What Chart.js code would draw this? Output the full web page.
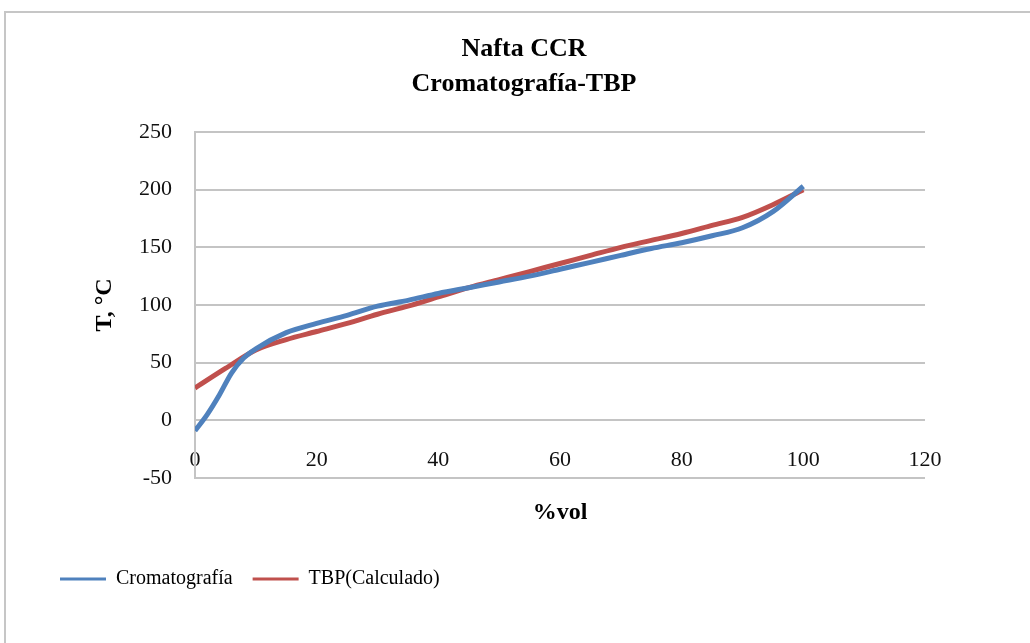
<!DOCTYPE html>
<html>
<head>
<meta charset="utf-8">
<script src="https://cdn.jsdelivr.net/npm/chart.js@4"></script>
<style>
  html, body { margin: 0; padding: 0; background: #fff; overflow: hidden; width: 1030px; height: 643px; }
  #frame { position: absolute; left: 4px; top: 11px; width: 1100px; height: 700px; border-left: 2px solid #c6c6c6; border-top: 2px solid #c6c6c6; }
  #wrap { position: absolute; left: 5px; top: 12px; width: 1038px; height: 631px; }
</style>
</head>
<body>
<div id="frame"></div>
<div id="wrap"><canvas id="c" width="1038" height="631"></canvas></div>
<script>
const titleLines = ["Nafta CCR", "Cromatografía-TBP"];
const xTitle = "%vol";
const yTitle = "T, °C";
const seriesNames = ["Cromatografía", "TBP(Calculado)"];

const cromX = [0, 2, 4, 6, 8, 10, 15, 20, 25, 30, 35, 40, 45, 50, 55, 60, 65, 70, 75, 80, 85, 90, 95, 100];
const cromY = [-9, 5, 22, 41, 54, 62, 76, 84, 91, 99, 104, 110, 115, 120, 125, 131, 137, 143, 149, 154, 160, 167, 181, 203];

const tbpX = [0, 5, 10, 15, 20, 25, 30, 35, 40, 45, 50, 55, 60, 65, 70, 75, 80, 85, 90, 95, 100];
const tbpY = [28, 45, 61, 70, 77, 84, 92, 99, 107, 115, 122, 129, 136, 143, 150, 156, 162, 169, 176, 187, 200];

const xMin = 0, xMax = 120, xStep = 20;
const yMin = -50, yMax = 250, yStep = 50;

const serif = '"Liberation Serif", "Times New Roman", serif';
const gridGray = '#c4c4c4';

const toPts = (xs, ys) => xs.map((x, i) => ({ x: x, y: ys[i] }));

new Chart(document.getElementById('c'), {
  type: 'line',
  data: {
    datasets: [
      { label: seriesNames[0], data: toPts(cromX, cromY), borderColor: '#4F81BD', backgroundColor: '#4F81BD', borderWidth: 5, pointRadius: 0, cubicInterpolationMode: 'monotone', fill: false },
      { label: seriesNames[1], data: toPts(tbpX, tbpY), borderColor: '#C0504D', backgroundColor: '#C0504D', borderWidth: 5, pointRadius: 0, cubicInterpolationMode: 'monotone', fill: false }
    ]
  },
  options: {
    responsive: false,
    animation: false,
    devicePixelRatio: 1,
    layout: { padding: { left: 35, right: 35, top: 0, bottom: 44 } },
    plugins: {
      title: {
        display: true,
        text: titleLines,
        color: '#000',
        font: { family: serif, size: 26, weight: 'bold', lineHeight: 35 / 26 },
        padding: { top: 20, bottom: 30 }
      },
      legend: {
        display: true,
        position: 'bottom',
        align: 'start',
        labels: {
          boxWidth: 46,
          boxHeight: 3,
          padding: 20,
          color: '#000',
          font: { family: serif, size: 20 },
          generateLabels: (chart) => chart.data.datasets.map((ds, i) => ({
            text: ds.label, fillStyle: ds.borderColor, strokeStyle: ds.borderColor, lineWidth: 0, datasetIndex: i, hidden: false
          }))
        }
      },
      tooltip: { enabled: false }
    },
    scales: {
      x: {
        type: 'linear',
        position: 'bottom',
        min: xMin, max: xMax,
        grid: { display: false, drawTicks: false },
        border: { display: false },
        ticks: { stepSize: xStep, mirror: true, padding: 4.8, color: '#111', font: { family: serif, size: 22 }, maxRotation: 0 },
        title: { display: true, text: xTitle, color: '#000', font: { family: serif, size: 24, weight: 'bold' }, padding: { top: 0, bottom: 21.6 } },
        afterFit: (s) => { s.height = 71; }
      },
      y: {
        type: 'linear',
        position: 'left',
        min: yMin, max: yMax,
        grid: { color: gridGray, lineWidth: 2, drawTicks: false },
        border: { display: true, color: gridGray, width: 2 },
        ticks: { stepSize: yStep, padding: 23, color: '#111', font: { family: serif, size: 22 } },
        title: { display: true, text: yTitle, color: '#000', font: { family: serif, size: 24, weight: 'bold' }, padding: { top: 50, bottom: 0 } },
        afterFit: (s) => { s.width = 155; }
      },
      yR: {
        type: 'linear',
        position: 'right',
        min: yMin, max: yMax,
        grid: { display: false, drawTicks: false },
        border: { display: false },
        ticks: { display: false },
        afterFit: (s) => { s.width = 83; }
      }
    }
  }
});
</script>
</body>
</html>
